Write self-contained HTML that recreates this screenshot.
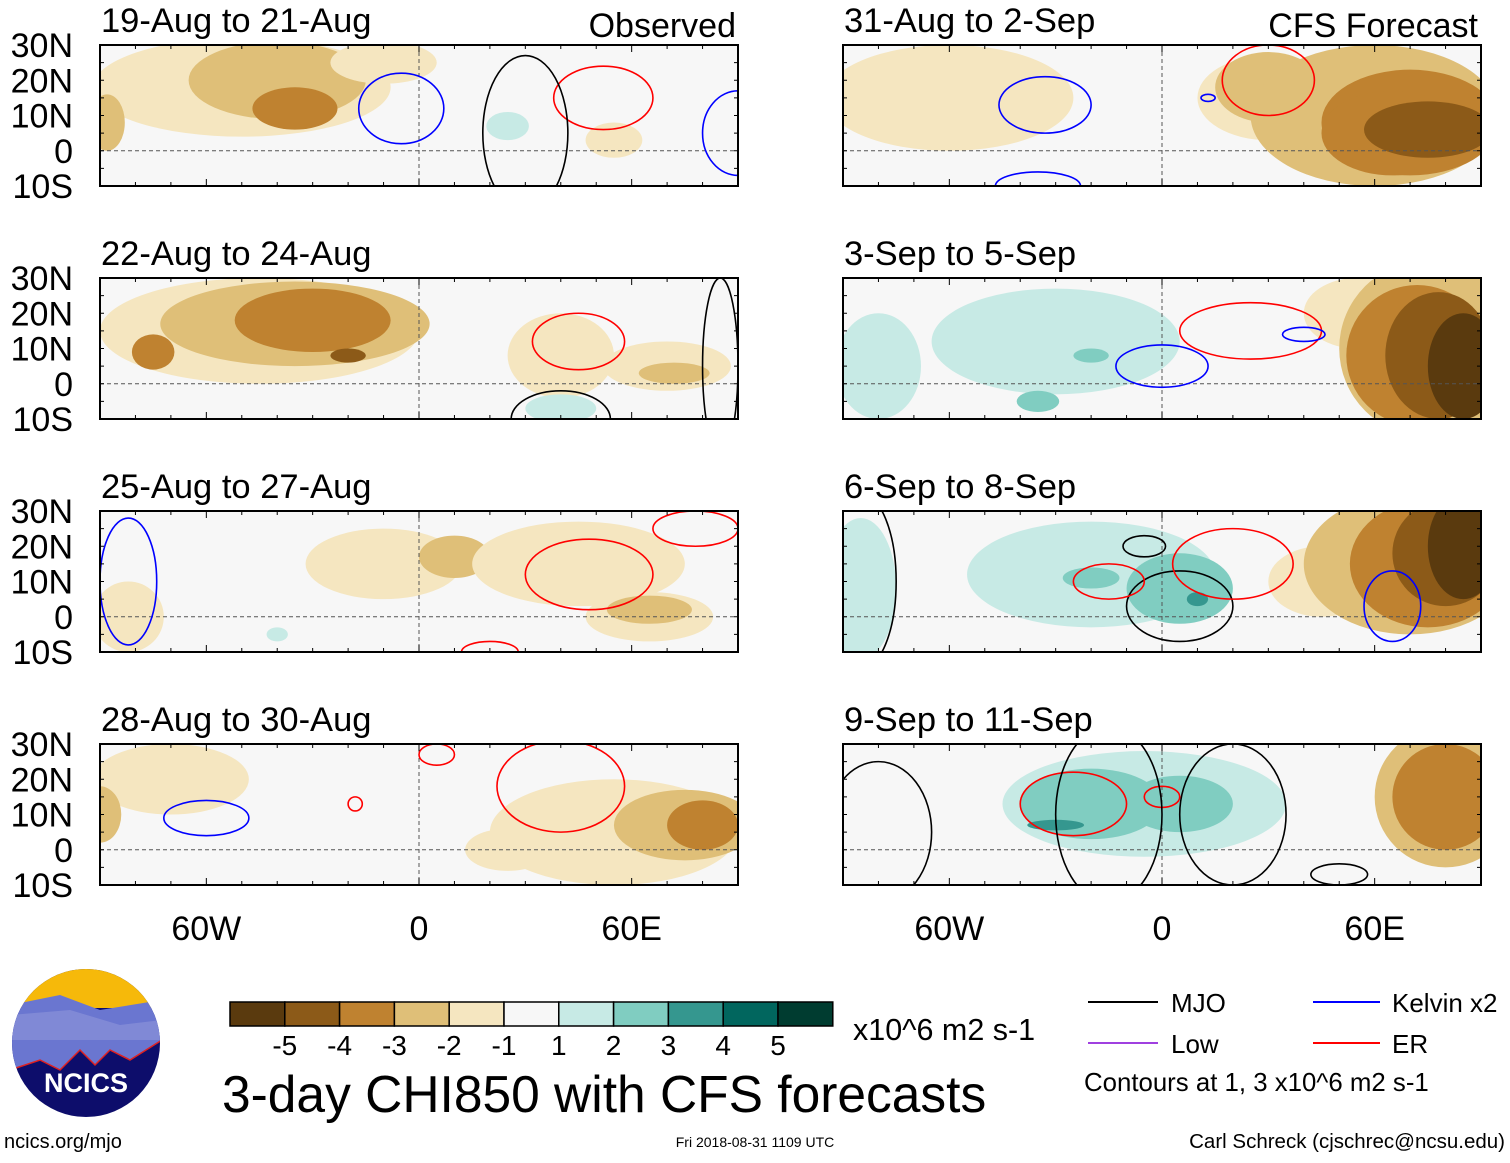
<!DOCTYPE html>
<html><head><meta charset="utf-8">
<style>
html,body{margin:0;padding:0;background:#fff;}
body{width:1510px;height:1158px;overflow:hidden;font-family:"Liberation Sans",sans-serif;}
svg text{font-family:"Liberation Sans",sans-serif;}
</style></head>
<body>
<svg id="fig" width="1510" height="1158" viewBox="0 0 1510 1158" xmlns="http://www.w3.org/2000/svg"></svg>
<script>
// ---- data ----
const levelValues=[-5,-4,-3,-2,-1,1,2,3,4,5];
const levelColors=['#5a3a0e','#8c5a18','#bf8230','#dfbf78','#f5e6c0','#f7f7f7','#c7eae5','#80cdc1','#35978f','#01665e','#003c30'];
const panelTitles=['19-Aug to 21-Aug','22-Aug to 24-Aug','25-Aug to 27-Aug','28-Aug to 30-Aug','31-Aug to 2-Sep','3-Sep to 5-Sep','6-Sep to 8-Sep','9-Sep to 11-Sep'];
const latTicks=[30,20,10,0,-10];
const latLabels=['30N','20N','10N','0','10S'];
const lonTicks=[-60,0,60];
const lonLabels=['60W','0','60E'];
// blobs: [lon, lat, rxDeg, ryDeg, colorIndex]
const blobs1=[[-50,18,42,14,4],[-40,20,25,11,3],[-35,12,12,6,2],[-88,8,5,8,3],[55,3,8,5,4],[-10,25,15,6,4],[25,7,6,4,6]];
const blobs2=[[-45,15,45,15,4],[-35,17,38,12,3],[-30,18,22,9,2],[-20,8,5,2,1],[-75,9,6,5,2],[40,8,15,12,4],[70,5,18,7,4],[72,3,10,3,3],[40,-7,10,4,6]];
const blobs3=[[-10,15,22,10,4],[10,17,10,6,3],[45,15,30,12,4],[65,0,18,7,4],[65,2,12,4,3],[-82,0,10,10,4],[-40,-5,3,2,6]];
const blobs4=[[-70,20,22,10,4],[55,5,35,15,4],[75,7,20,10,3],[80,7,10,7,2],[25,0,12,6,4],[-90,10,6,8,3]];
const blobs5=[[-60,15,35,15,4],[30,15,20,12,4],[30,18,15,10,3],[60,10,35,20,3],[70,8,25,15,2],[65,5,20,12,2],[75,6,18,8,1]];
const blobs6=[[-30,12,35,15,6],[-80,5,12,15,6],[-35,-5,6,3,7],[-20,8,5,2,7],[55,20,15,10,4],[75,10,25,25,3],[72,8,20,20,2],[78,8,15,18,1],[85,5,10,15,0]];
const blobs7=[[-20,12,35,15,6],[-85,8,10,20,6],[5,8,15,10,7],[-20,11,8,3,7],[10,5,3,2,8],[45,10,15,10,4],[70,15,30,20,3],[75,15,22,18,2],[80,18,15,15,1],[85,20,10,15,0]];
const blobs8=[[-5,13,40,15,6],[-20,13,20,10,7],[-30,7,8,1.5,8],[5,13,15,8,7],[80,15,20,20,3],[80,15,15,15,2]];
const blobsAll=[blobs1,blobs2,blobs3,blobs4,blobs5,blobs6,blobs7,blobs8];
// contours: [kind, lon, lat, rxDeg, ryDeg]
const cont1=[['k',-5,12,12,10],['k',90,5,10,12],['e',52,15,14,9],['m',30,5,12,22]];
const cont2=[['e',45,12,13,8],['m',85,5,5,25],['m',40,-10,14,8]];
const cont3=[['k',-82,10,8,18],['e',48,12,18,10],['e',78,25,12,5],['e',20,-10,8,3]];
const cont4=[['k',-60,9,12,5],['e',40,18,18,13],['e',5,27,5,3],['e',-18,13,2,2]];
const cont5=[['k',-33,13,13,8],['k',-35,-10,12,4],['e',30,20,13,10],['k',13,15,2,1]];
const cont6=[['e',25,15,20,8],['k',0,5,13,6],['k',40,14,6,2]];
const cont7=[['m',-85,10,10,25],['m',-5,20,6,3],['m',5,3,15,10],['e',-15,10,10,5],['e',20,15,17,10],['k',65,3,8,10]];
const cont8=[['e',-25,13,15,9],['e',0,15,5,3],['m',-15,10,15,25],['m',20,10,15,20],['m',-80,5,15,20],['m',50,-7,8,3]];
const contAll=[cont1,cont2,cont3,cont4,cont5,cont6,cont7,cont8];
const contColors={k:'#0000ff',e:'#ff0000',m:'#000000'};

// ---- drawing ----
const NS='http://www.w3.org/2000/svg';
const svg=document.getElementById('fig');
function mk(tag,attrs,parent){const e=document.createElementNS(NS,tag);for(const k in attrs)e.setAttribute(k,attrs[k]);(parent||svg).appendChild(e);return e;}
const PW=638,PH=141,rowsY=[45,278,511,744],colsX=[100,843];
for(let p=0;p<8;p++){
  const col=p<4?0:1,row=p%4,x0=colsX[col],y0=rowsY[row];
  const xs=lon=>x0+(lon+90)/180*PW, ys=lat=>y0+(30-lat)/40*PH, sx=d=>d/180*PW, sy=d=>d/40*PH;
  const g=mk('g',{});
  
  
  const cid='clip'+p;
  const cp=mk('clipPath',{id:cid},g);mk('rect',{x:x0,y:y0,width:PW,height:PH},cp);
  const inner=mk('g',{'clip-path':'url(#'+cid+')'},g);
  mk('rect',{x:x0,y:y0,width:PW,height:PH,fill:'#f7f7f7'},inner);
  blobsAll[p].forEach(b=>{const e=mk('ellipse',{cx:xs(b[0]),cy:ys(b[1]),rx:sx(b[2]),ry:sy(b[3]),fill:levelColors[b[4]]},inner);
    
    });
  mk('line',{x1:x0,x2:x0+PW,y1:ys(0),y2:ys(0),stroke:'#555','stroke-dasharray':'4,3','stroke-width':1},inner);
  mk('line',{x1:xs(0),x2:xs(0),y1:y0,y2:y0+PH,stroke:'#555','stroke-dasharray':'4,3','stroke-width':1},inner);
  contAll[p].forEach(c=>{const e=mk('ellipse',{cx:xs(c[1]),cy:ys(c[2]),rx:sx(c[3]),ry:sy(c[4]),fill:'none',stroke:contColors[c[0]],'stroke-width':1.6},inner);
    
    });
  mk('rect',{x:x0,y:y0,width:PW,height:PH,fill:'none',stroke:'#000','stroke-width':2},g);
  for(let lon=-90;lon<=90;lon+=10){const L=lonTicks.includes(lon)?7:4;mk('line',{x1:xs(lon),x2:xs(lon),y1:y0,y2:y0+L,stroke:'#000'},g);mk('line',{x1:xs(lon),x2:xs(lon),y1:y0+PH,y2:y0+PH-L,stroke:'#000'},g);}
  for(let lat=-10;lat<=30;lat+=5){mk('line',{x1:x0,x2:x0+4,y1:ys(lat),y2:ys(lat),stroke:'#000'},g);mk('line',{x1:x0+PW,x2:x0+PW-4,y1:ys(lat),y2:ys(lat),stroke:'#000'},g);}
  const t=mk('text',{x:x0+1,y:y0-13,'font-size':34.5},g);t.textContent=panelTitles[p];
  
  
  if(col==0){latTicks.forEach((lat,i)=>{const tt=mk('text',{x:73,y:ys(lat)+12,'font-size':34,'text-anchor':'end'},g);tt.textContent=latLabels[i];
    
    });}
  if(row==3){lonTicks.forEach((lon,i)=>{const tt=mk('text',{x:xs(lon),y:940,'font-size':34,'text-anchor':'middle'},g);tt.textContent=lonLabels[i];
    
    });}
}
const o=mk('text',{x:736,y:37,'font-size':34,'text-anchor':'end'});o.textContent='Observed';


const f=mk('text',{x:1478,y:37,'font-size':34,'text-anchor':'end'});f.textContent='CFS Forecast';



// colorbar
const cb=mk('g',{});


const cbx=230,cbw=54.8;
levelColors.forEach((c,i)=>{mk('rect',{x:cbx+i*cbw,y:1002,width:cbw,height:24,fill:c,stroke:'#000','stroke-width':1.5},cb);});
levelValues.forEach((v,i)=>{const t=mk('text',{x:cbx+(i+1)*cbw,y:1055,'font-size':28,'text-anchor':'middle'},cb);t.textContent=v;
  
  });
</script>
<svg style="position:absolute;left:0;top:0" width="1510" height="1158">
  <text x="853" y="1040" font-size="30.5">x10^6 m2 s-1</text>
  <text x="222" y="1112" font-size="51.5">3-day CHI850 with CFS forecasts</text>
  <g>
    <clipPath id="lc"><circle cx="86" cy="1043" r="74"/></clipPath>
    <g clip-path="url(#lc)">
      <rect x="10" y="968" width="152" height="152" fill="#0d0d6b"/>
      <rect x="10" y="968" width="152" height="40" fill="#f6b90a"/>
      <path d="M10 1005 L60 995 L100 1010 L162 1000 L162 1040 L130 1060 L110 1050 L95 1065 L80 1050 L60 1070 L40 1060 L10 1070Z" fill="#6a76d0"/>
      <path d="M10 1015 L70 1010 L120 1025 L162 1020 L162 1040 L10 1040Z" fill="#8a92d8" opacity="0.7"/>
      <path d="M10 1070 L40 1060 L60 1070 L80 1050 L95 1065 L110 1050 L130 1060 L162 1040" fill="none" stroke="#e02020" stroke-width="1.5"/>
    </g>
    <text x="86" y="1092" font-size="27" font-weight="bold" fill="#fff" text-anchor="middle">NCICS</text>
  </g>
  <text x="4" y="1148" font-size="20">ncics.org/mjo</text>
  <text x="755" y="1147" font-size="14" text-anchor="middle">Fri 2018-08-31 1109 UTC</text>
  <text x="1505" y="1148" font-size="20.5" text-anchor="end">Carl Schreck (cjschrec@ncsu.edu)</text>
  <g>
    <line x1="1088" y1="1002" x2="1158" y2="1002" stroke="#000" stroke-width="2"/>
    <text x="1171" y="1012" font-size="26">MJO</text>
    <line x1="1313" y1="1002" x2="1380" y2="1002" stroke="#0000ff" stroke-width="2"/>
    <text x="1392" y="1012" font-size="26">Kelvin x2</text>
    <line x1="1088" y1="1043" x2="1158" y2="1043" stroke="#a040e0" stroke-width="2"/>
    <text x="1171" y="1053" font-size="26">Low</text>
    <line x1="1313" y1="1043" x2="1380" y2="1043" stroke="#ff0000" stroke-width="2"/>
    <text x="1392" y="1053" font-size="26">ER</text>
    <text x="1084" y="1091" font-size="25.8">Contours at 1, 3 x10^6 m2 s-1</text>
  </g>
</svg>
</body></html>
